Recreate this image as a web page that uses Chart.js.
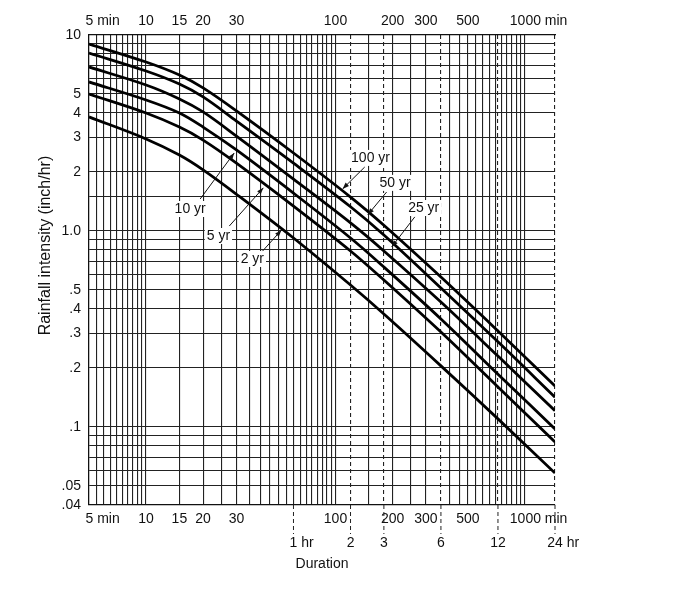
<!DOCTYPE html>
<html>
<head>
<meta charset="utf-8">
<script src="https://cdn.jsdelivr.net/npm/chart.js@4/dist/chart.umd.min.js"></script>
<style>
  body { margin: 0; background: #fff; }
</style>
</head>
<body>
<canvas id="idf" width="700" height="600"></canvas>
<script>
// durations in minutes, intensities in inch/hr
const durations = [5, 10, 15, 20, 30, 60, 120, 180, 360, 720, 1440];
const yr100 = [9.0, 7.28, 6.25, 5.37, 4.10, 2.50, 1.49, 1.07, 0.582, 0.309, 0.162];
const yr50 = [8.09, 6.55, 5.62, 4.83, 3.64, 2.22, 1.33, 0.954, 0.512, 0.272, 0.142];
const yr25 = [6.87, 5.56, 4.72, 4.05, 3.05, 1.84, 1.10, 0.791, 0.434, 0.230, 0.121];
const yr10 = [5.76, 4.66, 4.00, 3.39, 2.59, 1.56, 0.921, 0.655, 0.356, 0.186, 0.0977];
const yr5 = [5.00, 4.00, 3.39, 2.91, 2.22, 1.34, 0.791, 0.562, 0.305, 0.160, 0.0839];
const yr2 = [3.82, 2.95, 2.44, 2.05, 1.54, 0.921, 0.530, 0.377, 0.205, 0.110, 0.0582];

const returnPeriods = ['100 yr', '50 yr', '25 yr', '10 yr', '5 yr', '2 yr'];
const seriesValues = [yr100, yr50, yr25, yr10, yr5, yr2];

// grid lines of the log paper
const xGridLines = [5, 5.5, 6, 6.5, 7, 7.5, 8, 8.5, 9, 9.5, 10, 15,
  20, 25, 30, 35, 40, 45, 50, 55, 60, 65, 70, 75, 80, 85, 90, 95, 100,
  120, 150, 180, 200, 250, 300, 360, 400, 450, 500, 550, 600, 650, 700, 720,
  750, 800, 850, 900, 950, 1000, 1440];
const dashedMinutes = [120, 180, 360, 720, 1440];
const minuteTicks = [5, 10, 15, 20, 30, 100, 200, 300, 500, 1000];
const minuteLabels = ['5 min', '10', '15', '20', '30', '100', '200', '300', '500', '1000 min'];
const hourTicks = [60, 120, 180, 360, 720, 1440];
const hourLabels = ['1 hr', '2', '3', '6', '12', '24 hr'];

const yGridLines = [0.04, 0.05, 0.06, 0.07, 0.08, 0.09, 0.1, 0.2, 0.3, 0.4, 0.5,
  0.6, 0.7, 0.8, 0.9, 1, 1.5, 2, 3, 4, 5, 6, 7, 8, 9, 10];
const yTicks = [10, 5, 4, 3, 2, 1, 0.5, 0.4, 0.3, 0.2, 0.1, 0.05, 0.04];
const yTickLabels = ['10', '5', '4', '3', '2', '1.0', '.5', '.4', '.3', '.2', '.1', '.05', '.04'];

// curve labels: [duration, intensity] anchors
const noteAt = [[153, 2.36], [206, 1.76], [292, 1.31], [17.1, 1.295], [24.1, 0.943], [36.4, 0.72]];
const arrowFrom = [[142.6, 2.12], [186, 1.58], [262, 1.18], [19.3, 1.456], [27.5, 1.06], [41.2, 0.79]];
const arrowTo = [[109, 1.64], [148, 1.21], [198, 0.829], [29.2, 2.5], [41.6, 1.66], [51.8, 1.01]];

const FONT = '"Liberation Sans", Arial, Helvetica, sans-serif';
Chart.defaults.font.family = FONT;
Chart.defaults.color = '#111';

function minuteLabel(v) {
  const i = minuteTicks.indexOf(v);
  if (i < 0) return '';
  const s = minuteLabels[i];
  // keep the number centred on its line, unit hangs to the right
  return s.endsWith(' min') ? '       ' + s : s;
}

function yLabel(v) {
  const i = yTicks.indexOf(v);
  return i < 0 ? '' : yTickLabels[i];
}

const hourRow = {
  id: 'hourRow',
  afterDraw(chart) {
    const { ctx, chartArea, scales } = chart;
    ctx.save();
    ctx.strokeStyle = '#222';
    ctx.lineWidth = 1;
    ctx.setLineDash([4, 3]);
    ctx.font = '14px ' + FONT;
    ctx.fillStyle = '#111';
    ctx.textBaseline = 'middle';
    ctx.textAlign = 'left';
    hourTicks.forEach((h, i) => {
      const px = scales.x.getPixelForValue(h);
      ctx.beginPath();
      ctx.moveTo(px, chartArea.bottom);
      ctx.lineTo(px, chartArea.bottom + 29);
      ctx.stroke();
      const lead = hourLabels[i].split(' ')[0];
      ctx.fillText(hourLabels[i], px - ctx.measureText(lead).width / 2, chartArea.bottom + 38);
    });
    ctx.restore();
  }
};

const curveNotes = {
  id: 'curveNotes',
  afterDatasetsDraw(chart) {
    const { ctx, scales } = chart;
    const at = p => [scales.x.getPixelForValue(p[0]), scales.y.getPixelForValue(p[1])];
    ctx.save();
    ctx.font = '14px ' + FONT;
    ctx.textAlign = 'center';
    ctx.textBaseline = 'middle';
    returnPeriods.forEach((t, i) => {
      const [tx, ty] = at(noteAt[i]);
      const w = ctx.measureText(t).width + 4;
      ctx.fillStyle = '#fff';
      ctx.fillRect(tx - w / 2, ty - 8, w, 16);
      ctx.fillStyle = '#111';
      ctx.fillText(t, tx, ty);

      const [ax, ay] = at(arrowFrom[i]);
      const [bx, by] = at(arrowTo[i]);
      ctx.strokeStyle = '#111';
      ctx.lineWidth = 1;
      ctx.beginPath();
      ctx.moveTo(ax, ay);
      ctx.lineTo(bx, by);
      ctx.stroke();
      const ang = Math.atan2(by - ay, bx - ax);
      ctx.beginPath();
      ctx.moveTo(bx, by);
      ctx.lineTo(bx - 7 * Math.cos(ang - 0.35), by - 7 * Math.sin(ang - 0.35));
      ctx.lineTo(bx - 7 * Math.cos(ang + 0.35), by - 7 * Math.sin(ang + 0.35));
      ctx.closePath();
      ctx.fill();
    });
    ctx.restore();
  }
};

const gridStyle = { color: '#222', lineWidth: 1.1, drawTicks: false };

new Chart(document.getElementById('idf'), {
  type: 'line',
  data: {
    datasets: returnPeriods.map((label, k) => ({
      label: label,
      data: durations.map((d, i) => ({ x: d, y: seriesValues[k][i] })),
      borderColor: '#000',
      borderWidth: 2.8,
      pointRadius: 0,
      tension: 0.35,
      fill: false
    }))
  },
  options: {
    responsive: false,
    animation: false,
    events: [],
    layout: { padding: { left: 0, right: 145, top: 0, bottom: 0 } },
    plugins: {
      legend: { display: false },
      tooltip: { enabled: false }
    },
    scales: {
      x: {
        type: 'logarithmic',
        position: 'bottom',
        min: 5,
        max: 1440,
        afterFit: s => { s.height = 95; },
        afterBuildTicks: s => { s.ticks = xGridLines.map(v => ({ value: v })); },
        ticks: { autoSkip: false, maxRotation: 0, padding: 6, font: { size: 14 }, callback: minuteLabel },
        grid: gridStyle,
        border: {
          color: '#111',
          width: 1.2,
          dash: ctx => (ctx.tick && dashedMinutes.includes(ctx.tick.value)) ? [4, 3] : []
        },
        title: { display: true, text: 'Duration', font: { size: 14 }, padding: { top: 0, bottom: 27 } }
      },
      xTop: {
        type: 'logarithmic',
        position: 'top',
        min: 5,
        max: 1440,
        afterFit: s => { s.height = 35; },
        afterBuildTicks: s => { s.ticks = xGridLines.map(v => ({ value: v })); },
        ticks: { autoSkip: false, maxRotation: 0, padding: 5, font: { size: 14 }, callback: minuteLabel },
        grid: { drawOnChartArea: false, drawTicks: false },
        border: { color: '#111', width: 1.2 }
      },
      y: {
        type: 'logarithmic',
        min: 0.04,
        max: 10,
        afterFit: s => { s.width = 89; },
        afterBuildTicks: s => { s.ticks = yGridLines.map(v => ({ value: v })); },
        ticks: { autoSkip: false, padding: 8, font: { size: 14 }, callback: yLabel },
        grid: gridStyle,
        border: { color: '#111', width: 1.2 },
        // leading spaces lift the title a little above the axis middle, as in the original
        title: { display: true, text: '           Rainfall intensity (inch/hr)', font: { size: 16 }, padding: { top: 36, bottom: 0 } }
      }
    }
  },
  plugins: [hourRow, curveNotes]
});
</script>
</body>
</html>
